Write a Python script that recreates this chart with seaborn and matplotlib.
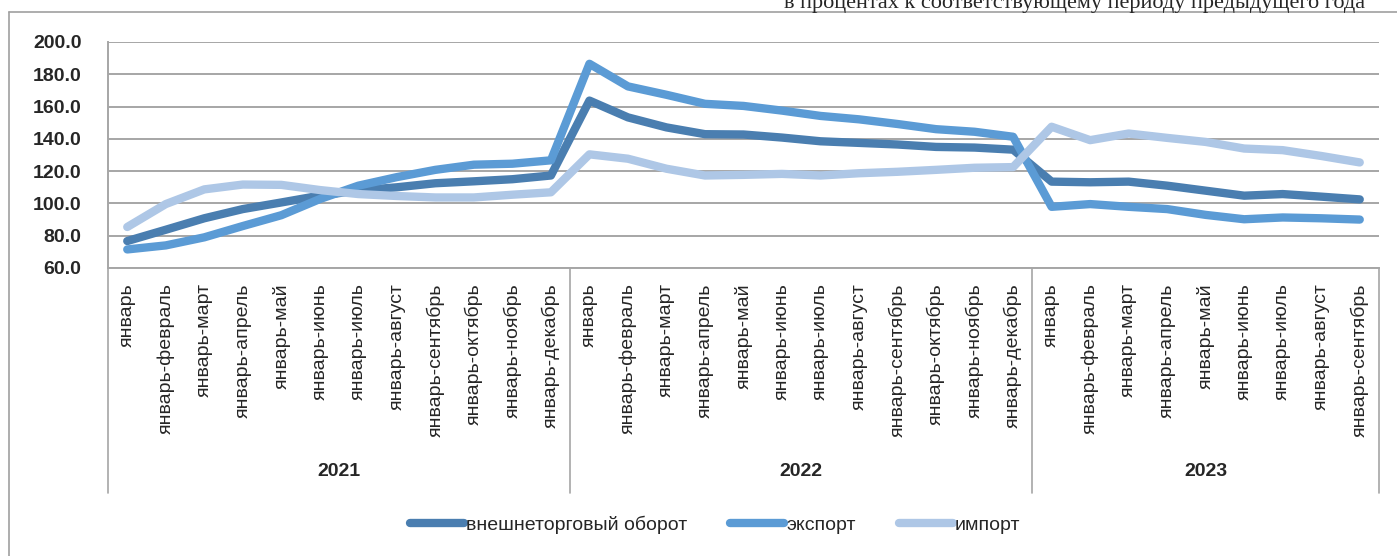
import pandas as pd
import matplotlib
matplotlib.use('Agg')
import matplotlib.pyplot as plt
from matplotlib.lines import Line2D
import seaborn as sns

# Данные: темпы роста, в % к соответствующему периоду предыдущего года
periods = ["январь", "январь-февраль", "январь-март", "январь-апрель", "январь-май",
           "январь-июнь", "январь-июль", "январь-август", "январь-сентябрь",
           "январь-октябрь", "январь-ноябрь", "январь-декабрь"]
years = ["2021", "2022", "2023"]
months_per_year = [12, 12, 9]

oborot = [76.7, 83.7, 90.8, 96.5, 100.6, 104.8, 108.0, 110.0, 112.5, 113.7, 115.0, 117.3,
          163.7, 153.3, 147.1, 142.9, 142.7, 140.8, 138.5, 137.5, 136.5, 135.0, 134.6, 133.3,
          113.5, 113.1, 113.5, 111.0, 107.9, 104.8, 105.8, 104.2, 102.5]
eksport = [71.5, 74.0, 79.0, 86.0, 92.7, 102.7, 111.0, 116.3, 120.8, 124.0, 124.6, 126.7,
           186.5, 172.5, 167.3, 161.7, 160.4, 157.5, 154.2, 152.1, 149.2, 146.0, 144.4, 141.3,
           97.9, 99.6, 97.9, 96.5, 92.9, 90.2, 91.3, 90.8, 90.0]
import_ = [85.4, 99.6, 108.7, 111.7, 111.5, 108.3, 105.8, 104.6, 103.7, 103.7, 105.4, 106.9,
           130.4, 127.7, 121.5, 117.3, 117.7, 118.3, 117.3, 118.7, 119.6, 120.8, 122.1, 122.5,
           147.5, 139.2, 143.3, 140.6, 138.1, 134.0, 133.0, 129.4, 125.4]

series_names = ["внешнеторговый оборот", "экспорт", "импорт"]
colors = ["#4a7eb0", "#5b9bd5", "#aec7e6"]

labels = []
for n in months_per_year:
    labels += periods[:n]
idx = list(range(len(labels)))

df = pd.DataFrame({
    "x": idx * 3,
    "value": oborot + eksport + import_,
    "series": sum([[s] * len(idx) for s in series_names], []),
})

sns.set_style("white")
plt.rcParams['font.family'] = ['Liberation Sans', 'DejaVu Sans']

W, H = 1397, 556
fig = plt.figure(figsize=(W / 100, H / 100), dpi=100)
ax = fig.add_axes([108 / W, 1 - 268 / H, (1379 - 108) / W, (268 - 42) / H])

sns.lineplot(data=df, x="x", y="value", hue="series", hue_order=series_names,
             palette=colors, linewidth=6, ax=ax, legend=False,
             solid_capstyle="round", solid_joinstyle="round")

ax.set_xlim(-0.5, len(idx) - 0.5)
ax.set_ylim(60, 200)
ax.set_yticks(range(60, 201, 20))
ax.set_yticklabels([f"{v:.1f}" for v in range(60, 201, 20)], fontsize=14,
                   fontweight="bold")
ax.yaxis.grid(True, color="#a6a6a6", linewidth=1.4)
ax.set_axisbelow(True)
ax.tick_params(axis="y", length=0, pad=19)
ax.set_xticks(idx)
ax.set_xticklabels(labels, rotation=90, fontsize=14, va="top", ha="center")
ax.tick_params(axis="x", length=0, pad=11)
ax.set_xlabel("")
ax.set_ylabel("")
for s in ["top", "right"]:
    ax.spines[s].set_visible(False)
for s in ["left", "bottom"]:
    ax.spines[s].set_color("#a6a6a6")
    ax.spines[s].set_linewidth(1.4)

# разделители групп и подписи годов
yb = -(493 - 268) / (268 - 42)
trans = ax.get_xaxis_transform()
start = 0
bounds = [-0.5]
for y, n in zip(years, months_per_year):
    ax.text(start + (n - 1) / 2, -(472 - 268) / (268 - 42), y, transform=trans,
            ha="center", va="center", fontsize=14, fontweight="bold")
    start += n
    bounds.append(start - 0.5)
for b in bounds:
    ax.plot([b, b], [0, yb], transform=trans, color="#a6a6a6", lw=1.2, clip_on=False)

# легенда
handles = [Line2D([0], [0], color=c, lw=6, solid_capstyle="round") for c in colors]
fig.legend(handles, series_names, loc="center", bbox_to_anchor=(715 / W, 1 - 525 / H),
           ncol=3, frameon=False, fontsize=14, handlelength=2.8, handletextpad=0.1,
           columnspacing=2.2)

# рамка и подзаголовок
fig.add_artist(Line2D([9 / W, 9 / W], [0, 1 - 12 / H], color="#a0a0a0", lw=1.2))
fig.add_artist(Line2D([9 / W, 1], [1 - 12 / H, 1 - 12 / H], color="#a0a0a0", lw=1.2))
fig.text(1365 / W, 1 - 8 / H, "в процентах к соответствующему периоду предыдущего года",
         ha="right", va="baseline", fontsize=16, family=["Liberation Serif", "DejaVu Serif"])

fig.savefig("out.png", dpi=100)
